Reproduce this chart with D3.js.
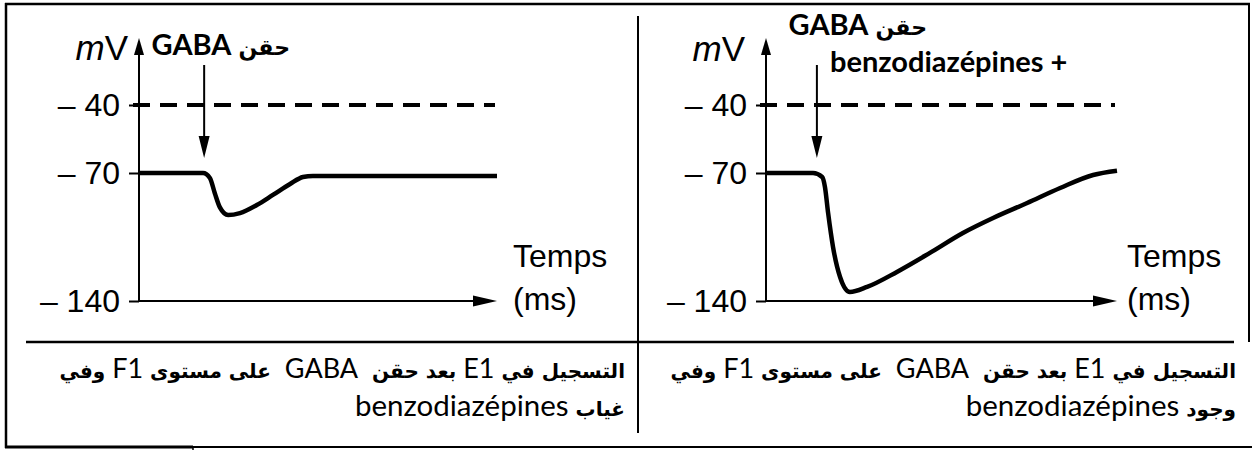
<!DOCTYPE html>
<html><head><meta charset="utf-8">
<script src="https://cdn.jsdelivr.net/npm/d3@7/dist/d3.min.js"></script>
<style>
body{margin:0;background:#fff}
svg{display:block}
</style>
</head><body>
<svg id="c" width="1252" height="450"></svg>
<script>
// ---------- data ----------
const yTicks = [-40, -70, -140];
const yTickLabels = ["– 40", "– 70", "– 140"];
const thresholdMv = -40;
const yUnit = "mV";
const xUnitLine1 = "Temps";
const xUnitLine2 = "(ms)";

// left panel: GABA alone
const leftTime = [0, 17.9, 19.8, 21.2, 22.6, 24.9, 28.2, 32.9, 37.4, 42.2, 45.8, 48.6, 100];
const leftMv   = [-70, -70, -72.7, -81.2, -88.8, -93.0, -91.9, -87.5, -82.0, -76.0, -72.2, -71.6, -71.6];
// right panel: GABA + benzodiazepines
const rightTime = [0, 13.4, 16.0, 16.8, 17.7, 19.1, 21.1, 23.9, 28.8, 37.3, 46.7, 56.1, 64.7, 74.4, 83.8, 93.2, 100];
const rightMv   = [-70, -70, -72.2, -77.7, -91.9, -110.5, -126.9, -135.1, -132.3, -124.1, -113.7, -102.8, -94.6, -86.4, -78.2, -71.1, -69];

const injectionTime = [18.2, 14.5];
// label runs: [text, isArabic]
const injectionLabelLeft = [["حقن", 1], [" GABA", 0]];
const injectionLabelRight = [["حقن", 1], [" GABA", 0]];
const injectionExtra = "benzodiazépines +";

// captions: [text, isArabic(bold)]
const captionLeft1 = [["التسجيل في ",1],["E1",0],[" بعد حقن  ",1],["GABA",0],["  على مستوى ",1],["F1",0],[" وفي",1]];
const captionLeft2 = [["غياب ",1],["benzodiazépines",0]];
const captionRight1 = captionLeft1;
const captionRight2 = [["وجود ",1],["benzodiazépines",0]];

// ---------- layout ----------
const svg = d3.select("#c");
const panels = [
  {x0:139, x1:497, time:leftTime, mv:leftMv, inj:injectionTime[0], label:injectionLabelLeft, extra:null,
   mvRight:128, mvY:60, tempsX:513, labelRight:290, labelY:55,
   capRight:625, cap:[captionLeft1, captionLeft2]},
  {x0:766, x1:1117, time:rightTime, mv:rightMv, inj:injectionTime[1], label:injectionLabelRight, extra:injectionExtra,
   mvRight:745, mvY:61, tempsX:1127, labelRight:927, labelY:35,
   capRight:1236, cap:[captionRight1, captionRight2]}
];
const yDomain = [-140, -70, -40];
const yRange = [301, 173, 105];
const numFont = "'Liberation Sans', Arial, Helvetica, sans-serif";
const latinFont = "Lato, 'Open Sans', sans-serif";
const arabicFont = "'DejaVu Sans', sans-serif";

// frame
const frame = svg.append("g").attr("stroke","#000").attr("fill","none");
frame.append("line").attr("x1",5).attr("x2",1250).attr("y1",4).attr("y2",4).attr("stroke-width",2.5);
frame.append("line").attr("x1",6).attr("x2",6).attr("y1",3).attr("y2",448).attr("stroke-width",2.5);
frame.append("line").attr("x1",1249).attr("x2",1249).attr("y1",3).attr("y2",342).attr("stroke-width",2);
frame.append("line").attr("x1",5).attr("x2",193).attr("y1",447).attr("y2",447).attr("stroke-width",3);
frame.append("line").attr("x1",193).attr("x2",1252).attr("y1",447).attr("y2",447).attr("stroke-width",2);
frame.append("line").attr("x1",193).attr("x2",193).attr("y1",447).attr("y2",450).attr("stroke-width",1.5);
frame.append("line").attr("x1",638).attr("x2",638).attr("y1",16).attr("y2",433).attr("stroke-width",2);
frame.append("line").attr("x1",26).attr("x2",1234).attr("y1",342).attr("y2",342).attr("stroke-width",2.5);

panels.forEach(p => {
  const x = d3.scaleLinear().domain([0, 100]).range([p.x0, p.x1]);
  const y = d3.scaleLinear().domain(yDomain).range(yRange);
  const g = svg.append("g");

  // y axis ticks
  const ax = g.append("g").attr("transform", `translate(${p.x0},0)`)
    .call(d3.axisLeft(y).tickValues(yTicks).tickFormat((d,i)=>yTickLabels[i]).tickSize(10).tickPadding(9));
  ax.select(".domain").remove();
  ax.selectAll(".tick line").attr("stroke","#000").attr("stroke-width",2);
  ax.selectAll(".tick text").attr("font-family", numFont).attr("font-size", 32).attr("fill","#000");

  // y axis line + arrow
  const yTop = 38;
  g.append("line").attr("x1",p.x0).attr("x2",p.x0).attr("y1",y(-140)).attr("y2",yTop+12)
    .attr("stroke","#000").attr("stroke-width",2);
  g.append("path").attr("d",`M${p.x0},${yTop} L${p.x0-5},${yTop+17} L${p.x0+5},${yTop+17} Z`).attr("fill","#000");

  // x axis line + arrow
  g.append("line").attr("x1",p.x0).attr("x2",x(100)-15).attr("y1",y(-140)).attr("y2",y(-140))
    .attr("stroke","#000").attr("stroke-width",2);
  g.append("path").attr("d",`M${x(100)},${y(-140)} L${x(100)-24},${y(-140)-5.5} L${x(100)-24},${y(-140)+5.5} Z`).attr("fill","#000");

  // threshold dashed
  g.append("line").attr("x1",p.x0-9).attr("x2",x(100)-2).attr("y1",y(thresholdMv)).attr("y2",y(thresholdMv))
    .attr("stroke","#000").attr("stroke-width",4).attr("stroke-dasharray","17,10").attr("stroke-dashoffset",-3);

  // curve
  const pts = p.time.map((t,i)=>[t, p.mv[i]]);
  g.append("path").datum(pts)
    .attr("d", d3.line().x(d=>x(d[0])).y(d=>y(d[1])).curve(d3.curveMonotoneX))
    .attr("fill","none").attr("stroke","#000").attr("stroke-width",4.5).attr("stroke-linejoin","round");

  // injection arrow
  const ax0 = x(p.inj), tip = y(-70) - 15;
  g.append("line").attr("x1",ax0).attr("x2",ax0).attr("y1",65).attr("y2",tip-10)
    .attr("stroke","#000").attr("stroke-width",2);
  g.append("path").attr("d",`M${ax0},${tip} L${ax0-5.5},${tip-22} L${ax0+5.5},${tip-22} Z`).attr("fill","#000");

  // y unit
  const mv = g.append("text").attr("x",p.mvRight).attr("y",p.mvY).attr("text-anchor","end")
    .attr("font-family",numFont).attr("font-size",35).attr("fill","#000");
  mv.append("tspan").attr("font-style","italic").text(yUnit[0]);
  mv.append("tspan").text(yUnit.slice(1));

  // x unit
  g.append("text").attr("x",p.tempsX).attr("y",267).attr("font-family",numFont).attr("font-size",32).text(xUnitLine1);
  g.append("text").attr("x",p.tempsX).attr("y",310).attr("font-family",numFont).attr("font-size",32).text(xUnitLine2);

  // injection label(s)
  const lt = g.append("text").attr("x",p.labelRight).attr("y",p.labelY).attr("direction","rtl").attr("text-anchor","start")
    .style("white-space","pre").attr("font-weight",700).attr("fill","#000");
  p.label.forEach(([s,a]) => {
    lt.append("tspan").attr("font-family", a ? arabicFont : latinFont).attr("font-size", a ? 22 : 29).text(s);
  });
  if (p.extra) {
    g.append("text").attr("x",830).attr("y",72)
      .attr("font-family",latinFont).attr("font-weight",700).attr("font-size",29).text(p.extra);
  }

  // captions
  p.cap.forEach((runs, li) => {
    const t = g.append("text").attr("x",p.capRight).attr("y",[378, 416][li]).attr("direction","rtl").attr("text-anchor","start")
      .style("white-space","pre").attr("fill","#000");
    runs.forEach(([s,a]) => {
      t.append("tspan").attr("font-family", a ? arabicFont : latinFont)
        .attr("font-weight", a ? 700 : 400).attr("font-size", a ? 20 : (li ? 29.5 : 27)).text(s);
    });
  });
});
</script>
</body></html>
